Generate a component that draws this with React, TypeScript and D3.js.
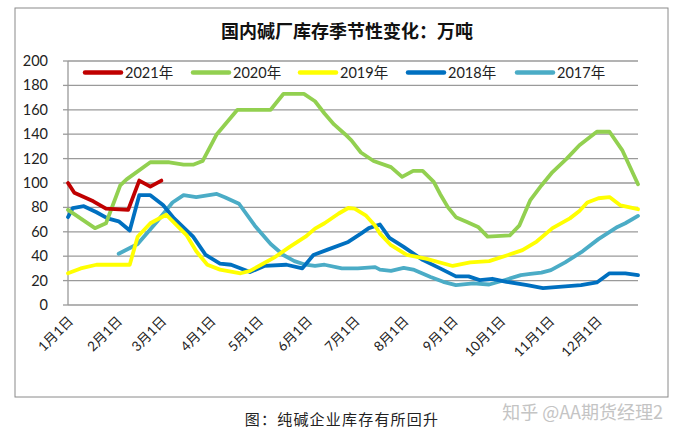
import React from "react";
import * as d3 from "d3";

const title = "国内碱厂库存季节性变化：万吨";
const caption = "图：纯碱企业库存有所回升";
const watermark = "知乎 @AA期货经理2";

const yTicks = [0, 20, 40, 60, 80, 100, 120, 140, 160, 180, 200];
const monthDays = [0, 31, 59, 90, 120, 151, 181, 212, 243, 273, 304, 334];
const monthLabels = ["1月1日", "2月1日", "3月1日", "4月1日", "5月1日", "6月1日", "7月1日", "8月1日", "9月1日", "10月1日", "11月1日", "12月1日"];

const seriesNames = ["2021年", "2020年", "2019年", "2018年", "2017年"];
const seriesColors = ["#C00000", "#92D050", "#FFFF00", "#0070C0", "#4BACC6"];

const days2021 = [0, 4, 16, 24, 38, 45, 52, 59];
const vals2021 = [100, 92, 85, 79, 78, 102, 97, 102];

const days2020 = [0, 17, 24, 33, 37, 52, 64, 73, 79, 85, 94, 107, 128, 136, 149, 156, 162, 168, 175, 179, 185, 193, 204, 211, 218, 224, 231, 235, 240, 245, 252, 259, 265, 279, 285, 292, 299, 306, 315, 323, 334, 342, 350, 360];
const vals2020 = [78, 63, 67, 98, 103, 117, 117, 115, 115, 118, 140, 160, 160, 173, 173, 167, 157, 148, 140, 135, 125, 118, 113, 105, 110, 110, 101, 91, 80, 72, 68, 64, 56, 57, 65, 86, 98, 109, 120, 131, 142, 142, 127, 99];

const days2019 = [0, 8, 18, 31, 39, 44, 52, 62, 75, 81, 88, 96, 109, 115, 122, 131, 140, 150, 156, 162, 171, 177, 181, 188, 194, 197, 204, 214, 226, 243, 254, 266, 278, 287, 296, 306, 317, 323, 328, 335, 342, 349, 360];
const vals2019 = [26, 30, 33, 33, 33, 56, 67, 74, 57, 44, 33, 29, 26, 28, 33, 39.5, 47.6, 56, 62.6, 67, 75, 79.5, 79, 73.5, 65, 58.5, 49, 41, 38, 32, 35, 36, 41, 45, 52, 63, 71, 77, 84, 87.5, 88.5, 81.6, 78.5];

const days2018 = [0, 3, 10, 18, 25, 32, 39, 45, 52, 60, 67, 79, 87, 96, 103, 115, 124, 138, 148, 155, 164, 177, 185, 190, 197, 203, 212, 224, 235, 245, 253, 260, 268, 277, 290, 300, 314, 324, 334, 342, 352, 360];
const vals2018 = [72, 79.5, 81, 76, 71, 68.6, 61, 90, 90, 82, 71, 56, 41, 34, 33, 27, 32, 33, 30, 41, 45.4, 51.7, 58.5, 63, 66, 55, 47.6, 37, 30, 23.5, 23.5, 20.4, 21.5, 19, 16.3, 13.8, 15.3, 16.3, 18.5, 26, 26, 24.5];

const days2017 = [32, 44, 56, 66, 73, 81, 94, 99, 108, 118, 128, 136, 143, 150, 156, 162, 173, 183, 194, 197, 204, 212, 218, 229, 237, 245, 256, 266, 276, 286, 292, 299, 305, 314, 325, 335, 347, 352, 360];
const vals2017 = [42, 50, 68, 84, 90, 88.4, 91, 88.4, 83, 65, 50, 41, 36, 33, 32, 33, 30, 30, 31, 29, 28, 30.5, 29, 23, 19, 16.3, 17.7, 16.8, 20.5, 24.5, 25.5, 26.5, 28.6, 35, 44, 54, 64, 67, 73];

const seriesDays = [days2021, days2020, days2019, days2018, days2017];
const seriesVals = [vals2021, vals2020, vals2019, vals2018, vals2017];

const FONT = "Lato, 'Noto Sans CJK SC', sans-serif";
const CJK = "'Noto Sans CJK SC', sans-serif";

export default function App() {
  const W = 680, H = 439;
  const left = 68, right = 638, top = 61, bottom = 305;
  const x = d3.scaleLinear().domain([0, 360]).range([left, right]);
  const y = d3.scaleLinear().domain([0, 200]).range([bottom, top]);
  const line = d3.line<[number, number]>().x(d => x(d[0])).y(d => y(d[1]));

  const legendX = [85, 193, 300, 408, 517];
  const legendY = 72.5;

  return (
    <svg width={W} height={H} style={{ position: "absolute", left: 0, top: 0, background: "#fff" }}>
      <rect x={0} y={0} width={W} height={H} fill="#fff" />
      <rect x={15} y={8} width={653} height={389} fill="#fff" stroke="#8a8a8a" strokeWidth={1} />
      <text x={347} y={38} textAnchor="middle" fontFamily={CJK} fontWeight={700} fontSize={18} fill="#111">{title}</text>

      {yTicks.map(t => (
        <g key={t}>
          {t > 0 && <line x1={left} x2={right} y1={y(t)} y2={y(t)} stroke="#9a9a9a" strokeWidth={1.3} />}
          <line x1={left - 5} x2={left} y1={y(t)} y2={y(t)} stroke="#9a9a9a" strokeWidth={1.3} />
          <text x={48} y={y(t) + 5} textAnchor="end" fontFamily={FONT} fontSize={14.5} fill="#222">{t}</text>
        </g>
      ))}
      <line x1={left} x2={left} y1={top} y2={bottom} stroke="#9a9a9a" strokeWidth={1.3} />
      <line x1={left} x2={right} y1={bottom} y2={bottom} stroke="#9a9a9a" strokeWidth={1.3} />

      {monthDays.map((d, i) => (
        <text key={i} transform={`translate(${x(d) + 6},${322}) rotate(-45)`} textAnchor="end" fontFamily={FONT} fontSize={13.5} fill="#222">{monthLabels[i]}</text>
      ))}

      {seriesNames.map((n, i) => (
        <g key={n}>
          <line x1={legendX[i]} x2={legendX[i] + 36} y1={legendY} y2={legendY} stroke={seriesColors[i]} strokeWidth={4.5} strokeLinecap="round" />
          <text x={legendX[i] + 40} y={legendY + 5} fontFamily={FONT} fontSize={14.5} fill="#222">{n}</text>
        </g>
      ))}

      {seriesNames.map((n, i) => {
        const pts = seriesDays[i].map((d, j) => [d, seriesVals[i][j]] as [number, number]);
        return <path key={n} d={line(pts) || ""} fill="none" stroke={seriesColors[i]} strokeWidth={3.8} strokeLinejoin="round" strokeLinecap="round" />;
      }).reverse()}

      <text x={342} y={425} textAnchor="middle" fontFamily={CJK} fontSize={15} letterSpacing={1.2} fill="#222">{caption}</text>
      <text x={663} y={419} textAnchor="end" fontFamily={CJK} fontSize={18} fill="#c4c4c4">{watermark}</text>
    </svg>
  );
}
